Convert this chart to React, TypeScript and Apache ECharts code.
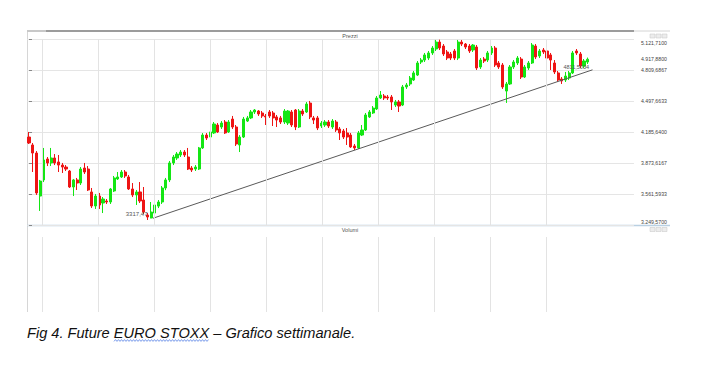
import React, { useEffect, useRef } from 'react';
import * as echarts from 'echarts';

// Weekly OHLC values (index = week)
const OPEN = [4135,4055,3974,3541,3703,3914,3874,3924,3884,3853,
3833,3793,3632,3703,3672,3823,3813,3582,3441,3541,
3471,3491,3481,3592,3713,3733,3783,3733,3612,3552,
3582,3501,3350,3320,3370,3440,3481,3622,3703,3874,
3924,3954,3984,3934,3823,3813,3813,4025,4155,4135,
4176,4256,4236,4286,4186,4316,4236,4055,4135,4296,
4327,4387,4397,4377,4347,4387,4377,4337,4327,4286,
4276,4387,4407,4236,4397,4387,4477,4327,4327,4246,
4256,4286,4236,4286,4216,4196,4176,4155,4045,4025,
4155,4206,4337,4377,4417,4528,4548,4538,4538,4457,
4488,4457,4639,4669,4709,4759,4890,4910,4930,4981,
5021,5091,5051,4991,4971,5001,4930,5091,5071,5051,
5011,5041,4840,4920,4910,4981,5031,4880,4860,4598,
4669,4840,4880,4920,4739,4830,4880,5051,4951,5011,
5001,4961,4880,4780,4719,4709,4729,4780,5001,4971,
4850,4890];
const CLOSE = [4075,3974,3572,3692,3904,3874,3924,3874,3853,3833,
3813,3632,3703,3672,3813,3783,3602,3441,3541,3451,
3511,3481,3612,3723,3733,3783,3743,3612,3552,3582,
3491,3380,3330,3380,3451,3481,3622,3703,3874,3934,
3964,3984,3954,3813,3803,3833,4025,4155,4125,4186,
4266,4186,4276,4176,4286,4236,4065,4135,4316,4327,
4387,4407,4367,4347,4337,4347,4327,4306,4286,4397,
4397,4256,4236,4397,4367,4467,4337,4306,4226,4276,
4286,4246,4296,4206,4176,4135,4135,4035,4025,4176,
4206,4357,4387,4427,4528,4558,4528,4528,4488,4488,
4447,4639,4659,4729,4780,4880,4910,4961,4981,5031,
5091,5031,4971,4930,4930,4930,5091,5071,5041,5001,
5061,4830,4910,4900,4981,5031,4860,4840,4639,4669,
4840,4890,4930,4739,4840,4880,5061,4941,5001,4991,
4930,4910,4790,4709,4699,4749,4780,4981,4981,4850,
4900,4918];
const LOW = [4065,3783,3552,3391,3682,3843,3843,3853,3783,3773,
3793,3622,3541,3602,3652,3763,3592,3421,3411,3411,
3370,3461,3461,3582,3703,3723,3723,3602,3531,3451,
3471,3360,3300,3317,3350,3420,3461,3600,3682,3853,
3904,3934,3934,3803,3783,3793,3803,4015,4105,4115,
4166,4176,4216,4166,4176,4216,4045,3984,4125,4286,
4316,4367,4347,4327,4256,4327,4246,4236,4266,4266,
4256,4236,4205,4226,4347,4377,4316,4266,4205,4226,
4236,4226,4216,4186,4105,4115,4055,4025,4004,4015,
4145,4196,4327,4367,4407,4518,4508,4508,4407,4437,
4387,4447,4619,4649,4699,4749,4870,4890,4910,4961,
5001,5011,4951,4910,4910,4910,4910,5051,5021,4981,
4991,4810,4820,4880,4890,4961,4840,4820,4619,4478,
4659,4820,4860,4719,4729,4810,4870,4920,4930,4971,
4830,4810,4769,4689,4669,4689,4709,4769,4961,4830,
4830,4870];
const HIGH = [4186,4075,3994,3703,4025,3934,4025,3964,3954,3874,
3853,3803,3713,3723,3833,3874,3843,3622,3562,3572,
3531,3511,3622,3743,3783,3803,3803,3753,3672,3602,
3682,3632,3370,3481,3471,3501,3642,3723,3894,3954,
3984,4004,4004,4025,3843,3853,4035,4175,4175,4206,
4286,4276,4296,4306,4306,4347,4256,4155,4337,4347,
4407,4417,4407,4397,4367,4407,4397,4357,4347,4417,
4407,4407,4417,4417,4417,4487,4498,4347,4347,4296,
4306,4306,4316,4306,4236,4216,4226,4176,4065,4196,
4256,4377,4407,4447,4548,4598,4568,4558,4558,4508,
4508,4659,4679,4749,4800,4900,4930,4981,5001,5051,
5112,5115,5071,5011,4991,5021,5112,5112,5081,5071,
5071,5061,4930,4940,5001,5051,5051,4900,4880,4689,
4860,4910,4950,4940,4860,4900,5081,5071,5021,5031,
5021,4981,4910,4800,4739,4790,4800,5001,5021,4991,
4920,4935];

const TOTAL_WEEKS = 164; // axis slots, including empty future weeks
const WEEKS = Array.from({ length: TOTAL_WEEKS }, (_, i) => String(i + 1));
const PRICE_TICKS = [3249.57, 3561.5933, 3873.6167, 4185.64, 4497.6633, 4809.6867, 5121.71];
const LAST_PRICE = 4917.88;
const TREND_WEEKS = [33.51, 152.3];
const TREND_VALUES = [3317.47, 4811.5034];
const TREND_LABELS = ['3317,47', '4811,5034'];

const PMIN = PRICE_TICKS[0];
const PMAX = PRICE_TICKS[PRICE_TICKS.length - 1];

function itFmt(v: number): string {
  const s = v.toFixed(4);
  const [i, d] = s.split('.');
  return i.replace(/\B(?=(\d{3})+(?!\d))/g, '.') + ',' + d;
}

const FONT = 'Liberation Sans, Arial, sans-serif';

export default function App() {
  const ref = useRef<HTMLDivElement>(null);
  useEffect(() => {
    if (!ref.current) return;
    const chart = echarts.init(ref.current, undefined, { renderer: 'svg' });

    const vgrid = Array.from({ length: 10 }, (_, k) => 3.51 + k * 15.135);
    const gridLeft = 27.15;
    const gridWidth = TOTAL_WEEKS * 3.7;

    const wave: number[][] = [];
    for (let x = 114, k = 0; x <= 209; x += 1.5, k++) wave.push([x, k % 2 ? 339.6 : 341.4]);

    const icons = (y: number) =>
      [650, 656, 662].map((x) => ({
        type: 'rect',
        shape: { x, y, width: 5, height: 4 },
        style: { fill: '#ececec', stroke: '#c4c4c4', lineWidth: 0.5 },
        silent: true,
      }));

    const vMark = {
      silent: true,
      symbol: ['none', 'none'],
      label: { show: false },
      lineStyle: { color: '#e3e3e3', width: 1, type: 'solid' },
      emphasis: { disabled: true },
      data: vgrid.map((v) => ({ xAxis: v })),
    };

    chart.setOption({
      animation: false,
      textStyle: { fontFamily: FONT },
      grid: [
        { left: gridLeft, top: 39, width: gridWidth, height: 186 },
        { left: gridLeft, top: 237, width: gridWidth, height: 75 },
      ],
      xAxis: [
        { type: 'category', gridIndex: 0, data: WEEKS, boundaryGap: true, show: false },
        { type: 'value', gridIndex: 0, min: -0.5, max: TOTAL_WEEKS - 0.5, show: false },
        { type: 'value', gridIndex: 1, min: -0.5, max: TOTAL_WEEKS - 0.5, show: false },
      ],
      yAxis: [
        {
          type: 'value',
          gridIndex: 0,
          position: 'right',
          min: PMIN,
          max: PMAX,
          axisLine: { show: false },
          axisTick: { show: true, length: 3, customValues: PRICE_TICKS, lineStyle: { color: '#888' } },
          splitLine: { show: true, lineStyle: { color: '#e5e5e5', width: 1 } },
          axisLabel: {
            customValues: [...PRICE_TICKS, LAST_PRICE],
            margin: 7,
            fontSize: 5.2,
            color: '#444',
            fontFamily: FONT,
            formatter: (v: number) => {
              const t = itFmt(v);
              if (Math.abs(v - PMAX) < 0.001) return `{top|${t}}`;
              if (Math.abs(v - PMIN) < 0.001) return `{bot|${t}}`;
              return t;
            },
            rich: {
              top: { padding: [7, 0, 0, 0], fontSize: 5.2, color: '#444', fontFamily: FONT },
              bot: { padding: [0, 0, 7, 0], fontSize: 5.2, color: '#444', fontFamily: FONT },
            },
          },
        },
        { type: 'value', gridIndex: 1, min: 0, max: 1, show: false },
      ],
      series: [
        {
          type: 'line',
          xAxisIndex: 1,
          yAxisIndex: 0,
          data: [],
          z: 1,
          markLine: vMark,
        },
        {
          type: 'line',
          xAxisIndex: 2,
          yAxisIndex: 1,
          data: [],
          z: 1,
          markLine: vMark,
        },
        {
          type: 'candlestick',
          xAxisIndex: 0,
          yAxisIndex: 0,
          z: 3,
          barWidth: '72%',
          data: OPEN.map((o, i) => [o, CLOSE[i], LOW[i], HIGH[i]]),
          itemStyle: {
            color: '#14e614',
            color0: '#ee1414',
            borderColor: '#14e614',
            borderColor0: '#ee1414',
            borderWidth: 1,
          },
        },
        {
          type: 'line',
          xAxisIndex: 1,
          yAxisIndex: 0,
          z: 4,
          symbol: 'circle',
          symbolSize: 1,
          showSymbol: true,
          itemStyle: { color: 'rgba(0,0,0,0)' },
          lineStyle: { color: '#5a5a5a', width: 1 },
          data: TREND_WEEKS.map((w, i) => ({
            value: [w, TREND_VALUES[i]],
            label: {
              show: true,
              position: 'left',
              distance: i === 0 ? 5 : 3,
              offset: [0, i === 0 ? -4 : -3],
              formatter: TREND_LABELS[i],
              fontSize: i === 0 ? 6 : 5.5,
              color: '#555',
              fontFamily: FONT,
            },
          })),
        },
      ],
      graphic: [
        { type: 'line', shape: { x1: 27, y1: 31, x2: 46, y2: 31 }, style: { stroke: '#c8c8c8', lineWidth: 2 }, silent: true },
        { type: 'line', shape: { x1: 46, y1: 31, x2: 634, y2: 31 }, style: { stroke: '#9c9c9c', lineWidth: 2 }, silent: true },
        { type: 'line', shape: { x1: 634, y1: 31, x2: 670, y2: 31 }, style: { stroke: '#d4d4d4', lineWidth: 1 }, silent: true },
        { type: 'line', shape: { x1: 27.5, y1: 32, x2: 27.5, y2: 312 }, style: { stroke: '#d6d6d6', lineWidth: 1 }, silent: true },
        { type: 'line', shape: { x1: 27, y1: 225.5, x2: 670, y2: 225.5 }, style: { stroke: '#b9d0e2', lineWidth: 1.5 }, silent: true },
        {
          type: 'text', x: 350, y: 35.5, silent: true,
          style: { text: 'Prezzi', fontSize: 5.5, fill: '#555', align: 'center', verticalAlign: 'middle', fontFamily: FONT },
        },
        {
          type: 'text', x: 350, y: 229.5, silent: true,
          style: { text: 'Volumi', fontSize: 5.5, fill: '#555', align: 'center', verticalAlign: 'middle', fontFamily: FONT },
        },
        ...icons(34),
        ...icons(227.5),
        {
          type: 'text', x: 27, y: 333, silent: true,
          style: {
            text: 'Fig 4. Future EURO STOXX – Grafico settimanale.',
            fontSize: 14.6, fontStyle: 'italic', fill: '#111', align: 'left', verticalAlign: 'middle', fontFamily: FONT,
          },
        },
        { type: 'polyline', shape: { points: wave }, style: { stroke: '#5b84e6', lineWidth: 0.8, fill: null }, silent: true },
      ],
    });
    return () => chart.dispose();
  }, []);

  return (
    <div style={{ position: 'fixed', left: 0, top: 0, width: 714, height: 365, background: '#fff' }}>
      <div ref={ref} style={{ width: 714, height: 365 }} />
    </div>
  );
}
